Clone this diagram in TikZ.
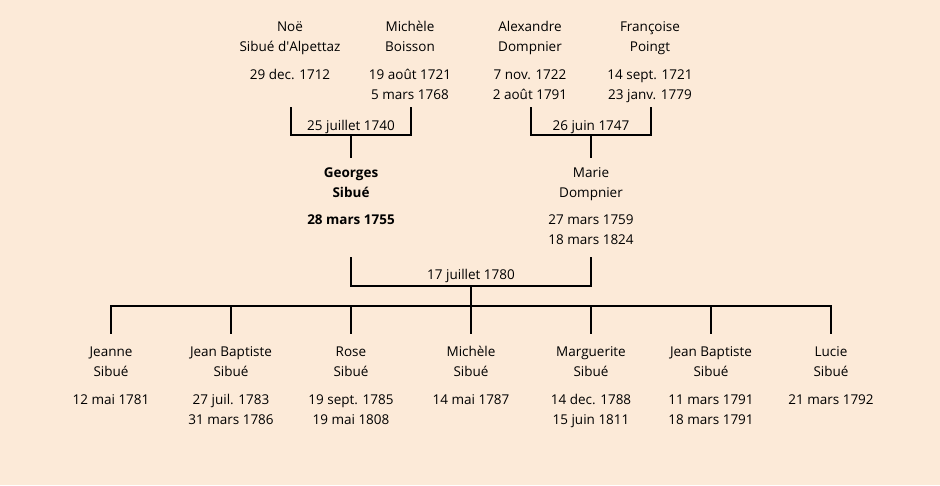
\documentclass[tikz,border=0pt]{standalone}
\usepackage{fontspec}
\setmainfont{Open Sans}
\definecolor{bgc}{RGB}{252,234,216}
\begin{document}
\begin{tikzpicture}[x=1pt,y=-1pt,
  txt/.style={anchor=base,inner sep=0pt,font=\fontsize{13.5}{16}\selectfont},
  btxt/.style={txt,font=\fontsize{13.5}{16}\selectfont\bfseries},
  ln/.style={line width=2pt,line cap=rect}]
\fill[bgc] (0,0) rectangle (940,485);
\useasboundingbox (0,0) rectangle (940,485);
% grandparents
\node[txt] (noe) at (290,31) {Noë};
\node[txt] (noe2) at (290,51) {Sibué d\textquotesingle Alpettaz};
\node[txt] (noe3) at (290,79) {29 dec. 1712};
\node[txt] (mic) at (410,31) {Michèle};
\node[txt] (mic2) at (410,51) {Boisson};
\node[txt] (mic3) at (410,79) {19 août 1721};
\node[txt] (mic4) at (410,99) {5 mars 1768};
\node[txt] (ale) at (530,31) {Alexandre};
\node[txt] (ale2) at (530,51) {Dompnier};
\node[txt] (ale3) at (530,79) {7 nov. 1722};
\node[txt] (ale4) at (530,99) {2 août 1791};
\node[txt] (fra) at (650,31) {Françoise};
\node[txt] (fra2) at (650,51) {Poingt};
\node[txt] (fra3) at (650,79) {14 sept. 1721};
\node[txt] (fra4) at (650,99) {23 janv. 1779};
% marriages
\node[txt] (m1) at (351,130) {25 juillet 1740};
\node[txt] (m2) at (591,130) {26 juin 1747};
\coordinate (a1) at (291,108); \coordinate (a2) at (291,135);
\coordinate (b1) at (411,108); \coordinate (b2) at (411,135);
\coordinate (c1) at (351,135); \coordinate (c2) at (351,157);
\draw[ln] (a1) -- (a2) -- (b2) -- (b1);
\draw[ln] (c1) -- (c2);
\coordinate (d1) at (531,108); \coordinate (d2) at (531,135);
\coordinate (e1) at (651,108); \coordinate (e2) at (651,135);
\coordinate (f1) at (591,135); \coordinate (f2) at (591,157);
\draw[ln] (d1) -- (d2) -- (e2) -- (e1);
\draw[ln] (f1) -- (f2);
% parents
\node[btxt] (geo) at (351,177) {Georges};
\node[btxt] (geo2) at (351,197) {Sibué};
\node[btxt] (geo3) at (351,224) {28 mars 1755};
\node[txt] (mar) at (591,177) {Marie};
\node[txt] (mar2) at (591,197) {Dompnier};
\node[txt] (mar3) at (591,224) {27 mars 1759};
\node[txt] (mar4) at (591,244) {18 mars 1824};
\node[txt] (m3) at (471,279) {17 juillet 1780};
\coordinate (g1) at (351,258); \coordinate (g2) at (351,286);
\coordinate (h1) at (591,258); \coordinate (h2) at (591,286);
\coordinate (i1) at (471,286); \coordinate (i2) at (471,306);
\draw[ln] (g1) -- (g2) -- (h2) -- (h1);
\draw[ln] (i1) -- (i2);
% children bar
\coordinate (k1) at (111,306); \coordinate (k7) at (831,306);
\draw[ln] (k1) -- (k7);
\foreach \x in {111,231,351,471,591,711,831}{
  \draw[ln] (\x,306) -- (\x,333);
}
% children
\node[txt] (c1a) at (111,356) {Jeanne};
\node[txt] (c1b) at (111,376) {Sibué};
\node[txt] (c1c) at (111,404) {12 mai 1781};
\node[txt] (c2a) at (231,356) {Jean Baptiste};
\node[txt] (c2b) at (231,376) {Sibué};
\node[txt] (c2c) at (231,404) {27 juil. 1783};
\node[txt] (c2d) at (231,424) {31 mars 1786};
\node[txt] (c3a) at (351,356) {Rose};
\node[txt] (c3b) at (351,376) {Sibué};
\node[txt] (c3c) at (351,404) {19 sept. 1785};
\node[txt] (c3d) at (351,424) {19 mai 1808};
\node[txt] (c4a) at (471,356) {Michèle};
\node[txt] (c4b) at (471,376) {Sibué};
\node[txt] (c4c) at (471,404) {14 mai 1787};
\node[txt] (c5a) at (591,356) {Marguerite};
\node[txt] (c5b) at (591,376) {Sibué};
\node[txt] (c5c) at (591,404) {14 dec. 1788};
\node[txt] (c5d) at (591,424) {15 juin 1811};
\node[txt] (c6a) at (711,356) {Jean Baptiste};
\node[txt] (c6b) at (711,376) {Sibué};
\node[txt] (c6c) at (711,404) {11 mars 1791};
\node[txt] (c6d) at (711,424) {18 mars 1791};
\node[txt] (c7a) at (831,356) {Lucie};
\node[txt] (c7b) at (831,376) {Sibué};
\node[txt] (c7c) at (831,404) {21 mars 1792};
\end{tikzpicture}
\end{document}
